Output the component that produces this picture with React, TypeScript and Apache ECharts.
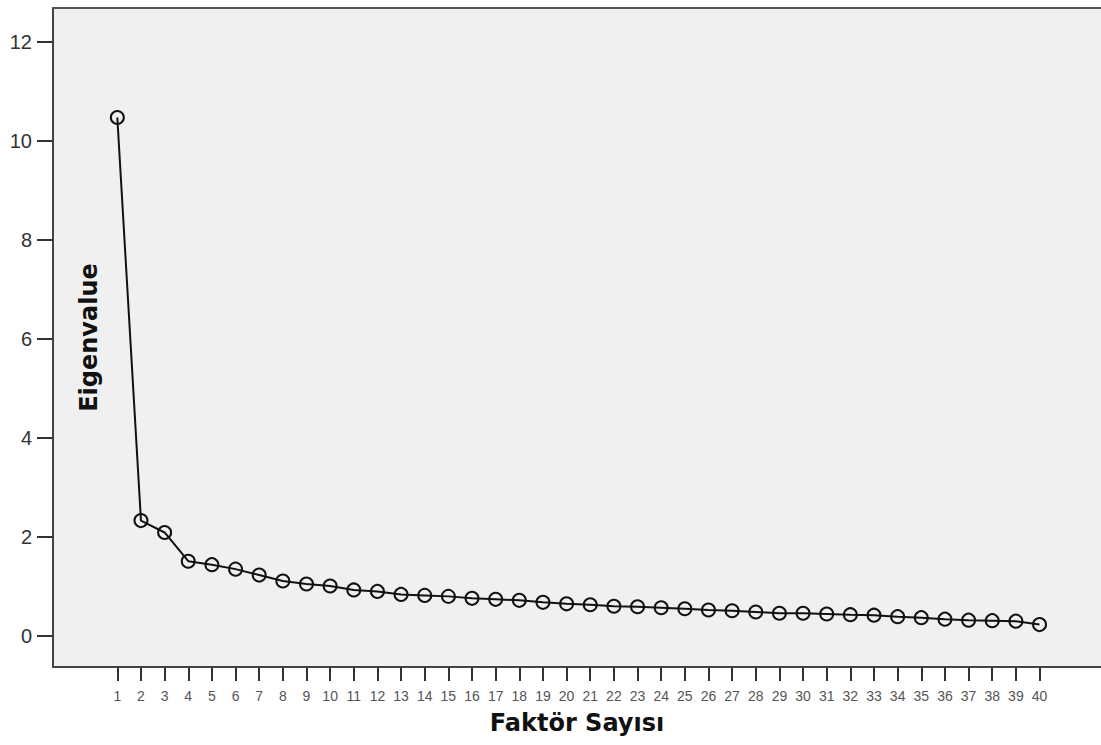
import React, { useEffect, useRef } from "react";
import * as echarts from "echarts";

const factorNumbers: number[] = Array.from({ length: 40 }, (_, i) => i + 1);
const eigenvalues: number[] = [
  10.47, 2.33, 2.09, 1.51, 1.44, 1.35, 1.23, 1.11, 1.05, 1.01,
  0.93, 0.9, 0.84, 0.82, 0.8, 0.76, 0.74, 0.72, 0.68, 0.65,
  0.63, 0.6, 0.59, 0.57, 0.55, 0.525, 0.51, 0.485, 0.46, 0.46,
  0.445, 0.43, 0.42, 0.39, 0.37, 0.34, 0.32, 0.31, 0.3, 0.23,
];
const yTickValues: number[] = [0, 2, 4, 6, 8, 10, 12];

const X_MIN = -1.72;
const X_MAX = 42.6;
const Y_MIN = -0.626;
const Y_MAX = 12.68;

export default function App() {
  const ref = useRef<HTMLDivElement>(null);
  useEffect(() => {
    if (!ref.current) return;
    const chart = echarts.init(ref.current, null, { renderer: "svg" });
    const nameStyle = {
      fontFamily: "DejaVu Sans",
      fontWeight: "bold" as const,
      fontSize: 24,
      color: "#111",
    };
    chart.setOption({
      animation: false,
      backgroundColor: "#ffffff",
      grid: {
        left: 53,
        top: 8,
        right: 0,
        bottom: 78,
        show: true,
        backgroundColor: "#f0f0f0",
        borderWidth: 0,
        containLabel: false,
        outerBoundsMode: "none",
      },
      xAxis: [
        {
          type: "value",
          min: X_MIN,
          max: X_MAX,
          position: "bottom",
          axisLine: { show: true, onZero: false, lineStyle: { color: "#444", width: 2 } },
          axisTick: {
            show: true,
            customValues: factorNumbers,
            length: 14,
            lineStyle: { color: "#333", width: 2 },
          },
          axisLabel: {
            customValues: factorNumbers,
            margin: 22,
            fontSize: 14,
            color: "#555",
            fontFamily: "Liberation Sans",
          },
          splitLine: { show: false },
          name: "Faktör Sayısı",
          nameLocation: "middle",
          nameGap: 44,
          nameTextStyle: nameStyle,
        },
        {
          type: "value",
          min: X_MIN,
          max: X_MAX,
          position: "top",
          axisLine: { show: true, onZero: false, lineStyle: { color: "#555", width: 2 } },
          axisTick: { show: false },
          axisLabel: { show: false },
          splitLine: { show: false },
        },
      ],
      yAxis: {
        type: "value",
        min: Y_MIN,
        max: Y_MAX,
        axisLine: { show: true, onZero: false, lineStyle: { color: "#444", width: 2 } },
        axisTick: {
          show: true,
          customValues: yTickValues,
          length: 16,
          lineStyle: { color: "#333", width: 2 },
        },
        axisLabel: {
          customValues: yTickValues,
          margin: 21,
          fontSize: 20,
          color: "#333",
          fontFamily: "Liberation Sans",
        },
        splitLine: { show: false },
        name: "Eigenvalue",
        nameLocation: "middle",
        nameGap: -48,
        nameTextStyle: nameStyle,
      },
      series: [
        {
          type: "line",
          xAxisIndex: 0,
          data: factorNumbers.map((f, i) => [f, eigenvalues[i]]),
          symbol: "circle",
          symbolSize: 13,
          itemStyle: { color: "rgba(0,0,0,0)", borderColor: "#111", borderWidth: 2 },
          lineStyle: { color: "#111", width: 2 },
        },
      ],
    });
    return () => chart.dispose();
  }, []);
  return (
    <div
      ref={ref}
      style={{ position: "absolute", left: 0, top: 0, width: 1101, height: 745 }}
    />
  );
}
